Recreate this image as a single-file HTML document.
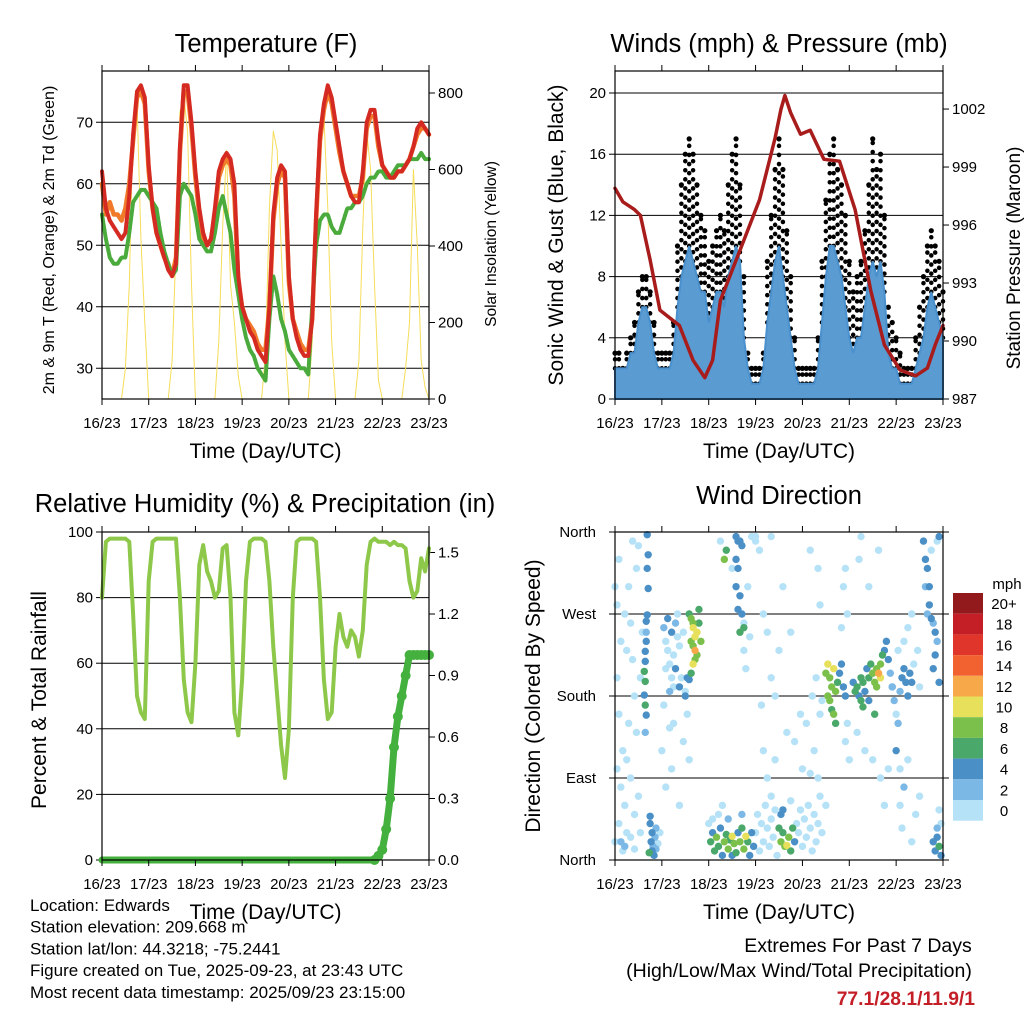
<!DOCTYPE html>
<html><head><meta charset="utf-8"><style>
html,body{margin:0;padding:0;background:#fff}
svg{display:block;font-family:"Liberation Sans",sans-serif}
</style></head><body>
<svg id="c" width="1024" height="1024" viewBox="0 0 1024 1024"></svg>
<script>
// ---------- data (2-hour steps, t = 0..168 h from 16/23) ----------
const dayLabels = ["16/23","17/23","18/23","19/23","20/23","21/23","22/23","23/23"];
const tempTicks = [30,40,50,60,70];
const solarTicks = [0,200,400,600,800];
const windTicks = [0,4,8,12,16,20];
const presTicks = [987,990,993,996,999,1002];
const rhTicks = [0,20,40,60,80,100];
const precTicks = [0.0,0.3,0.6,0.9,1.2,1.5];
const dirTicks = ["North","East","South","West","North"];
const speedBins = ["0","2","4","6","8","10","12","14","16","18","20+"];

const temp2m = [62,56,54,53,52,51,52,58,68,75,76,74,63,56,52,50,48,46,45,47,66,76,76,70,62,56,52,50,51,56,62,64,65,64,60,45,40,38,36,35,33,32,31,40,55,61,63,62,45,38,35,33,32,32,38,55,68,73,76,74,70,66,62,60,58,57,57,62,70,72,72,67,63,62,61,61,62,62,63,64,66,69,70,69,68];
const temp9m = [60,55,57,55,55,54,56,60,67,74,75,73,62,56,52,50,48,47,45,48,65,75,75,69,61,55,51,50,51,55,61,63,64,63,58,44,40,38,37,36,34,33,33,40,54,60,62,61,44,38,36,34,33,33,38,54,67,72,75,73,69,65,62,60,58,58,58,61,69,71,71,66,63,62,61,61,62,62,63,64,66,68,69,69,68];
const dewpoint = [55,51,48,47,47,48,48,52,57,58,59,59,58,57,56,52,49,47,45,46,58,60,59,58,55,51,50,49,49,52,56,58,55,52,46,42,38,35,33,32,30,29,28,38,45,42,38,36,33,32,31,30,30,29,40,50,54,55,55,53,52,52,54,56,56,57,57,58,60,61,61,62,62,61,61,62,63,63,63,64,64,64,65,64,64];
const solar = [0,0,0,0,0,0,80,300,720,780,420,200,0, 0,0,0,0,0,100,400,750,790,700,300,0, 0,0,0,0,0,150,450,650,300,200,60,0, 0,0,0,0,0,120,500,700,650,400,150,0, 0,0,0,0,0,150,500,720,740,500,150,0, 0,0,0,0,0,100,450,700,600,300,50,0, 0,0,0,0,0,80,200,600,400,100,30,0];
const windSpeed = [2,2,2,2,3,3,5,6,6,5,3,2,2, 2,2,3,6,8,9,10,9,8,7,7,5, 6,7,7,6,8,9,10,9,4,2,1,1, 1,2,5,7,9,10,8,6,4,2,1,1, 1,1,1,2,5,8,10,10,9,8,6,4, 3,4,4,6,8,9,8,9,7,3,2,2, 1,1,1,1,2,3,4,6,7,6,5,4];
const windGust = [3,3,2,3,4,5,7,8,8,7,5,3,3, 3,3,5,10,14,16,17,16,14,12,11,9, 10,11,12,11,14,16,17,14,8,3,2,2, 2,3,9,12,15,17,15,11,8,4,2,2, 2,2,2,4,9,13,16,17,15,14,12,9, 7,8,9,11,14,17,15,16,12,6,5,4, 3,2,2,2,4,6,8,10,11,10,9,7];
const pressTime = [0,4,10,13,18,23,33,40,46,50,54,64,74,82,85,87,90,95,100,107,115,123,131,138,146,154,160,164,168];
const pressure = [997.9,997.2,996.8,996.5,994.2,991.6,990.8,989.0,988.1,989.0,992.1,994.7,997.3,1000.5,1002.0,1002.7,1001.8,1000.7,1000.9,999.4,999.3,996.8,992.6,989.8,988.5,988.2,988.6,989.8,990.8];
const humidity = [80,97,98,98,98,98,98,97,75,50,45,43,85, 97,98,98,98,98,98,98,80,55,45,42,60, 90,96,88,85,80,82,95,96,80,45,38,55, 85,97,98,98,98,97,85,65,50,35,25,40, 80,97,98,98,98,98,97,80,55,43,45,65, 75,68,65,70,68,62,70,90,97,98,97,97, 97,96,97,96,96,95,85,80,82,92,88,95];
const precipTime = [0,20,40,60,80,100,120,140,142,144,146,148,150,152,154,156,158,160,162,164,166,168];
const precip = [0,0,0,0,0,0,0,0,0.02,0.05,0.15,0.3,0.55,0.7,0.8,0.9,1.0,1.0,1.0,1.0,1.0,1.0];

const dirTime = [0,1,2,3,1,2,4,1,3,5,2,0,4,6,7,8,9,10,11,6,8,12,10,13,12,11,9,14,13,5,6,7,3,5,8,10,
16.5,17,16.5,17,16.5,16,16,15.5,15.5,15,15.5,15,15.5,16,16,15.5,
18,19,18.5,19,20,19.5,20.5,21,18,17.5,21,22,23,
25,26,27,28,29,30,31,32,26,28,30,33,34,35,27,29,31,33,25,36,32,30,28,35,37,24,29,38,26,33,37,36,
38,39,40,41,40,41,42,39,43,42,40,39,38,44,43,41,40,
62,63,64,62,63,62,64,63,65,66,64,65,66,67,60,68,70,72,69,66,54,56,57,
49,50,51,52,53,54,55,56,57,58,59,60,61,62,63,64,65,66,67,68,69,70,71,50,53,48,58,65,55,60,
72,73,74,75,76,77,78,79,80,81,82,83,84,85,86,87,88,89,90,91,92,85,86,93,94,95,96,97,98,99,100,101,102,103,104,105,106,80,90,78,76,82,88,92,96,100,95,75,80,84,78,86,74,98,102,104,108,72,80,76,82,90,100,104,105,103,101,
108,109,110,111,112,113,110,111,112,113,114,109,115,116,117,118,106,105,119,118,120,116,119,117,118,
122,123,124,125,126,127,128,129,130,131,132,133,134,135,136,137,138,139,134,136,140,141,142,130,126,127,133,124,128,132,136,140,138,125,130,135,126,
142,143,144,145,146,147,148,149,150,151,152,153,145,148,150,152,155,156,144,146,148,150,147,152,154,146,156,
158,159,160,161,161,162,163,164,165,164,163,166,162,165,166,159,160,
163,164,165,166,167,165,166,167];
const dirDeg = [300,280,330,240,200,160,120,100,80,60,40,20,10,30,300,260,220,180,140,110,90,70,50,30,345,320,350,250,200,270,230,150,20,15,25,12,
357,335,320,298,269,262,240,229,218,207,196,181,170,159,250,140,
40,30,20,10,5,15,25,35,48,8,12,18,30,
255,240,230,215,200,190,260,245,210,185,225,235,200,250,265,250,210,190,170,185,270,150,145,130,160,120,100,110,80,60,200,180,
270,265,255,245,235,230,250,240,260,225,215,205,198,240,275,220,260,
355,350,350,330,320,300,290,275,270,255,250,345,260,210,320,300,355,350,245,230,350,330,340,
20,30,10,25,15,35,5,20,28,12,22,26,18,8,30,20,35,12,26,20,5,30,15,45,50,40,45,50,60,5,
30,50,10,40,20,60,35,15,45,25,55,5,35,20,30,15,16,25,10,35,20,50,55,40,30,55,15,45,25,60,35,10,50,20,40,70,30,70,65,90,120,110,140,130,100,95,160,170,200,230,250,300,340,150,120,90,60,355,355,270,180,250,340,320,280,200,180,
205,215,200,190,210,185,175,165,160,150,195,180,205,215,190,180,175,160,150,130,110,255,270,300,320,
195,185,190,180,200,195,185,210,200,215,205,195,210,205,215,225,230,240,190,200,220,205,190,175,175,168,160,140,120,110,90,100,60,330,300,340,355,
190,175,160,150,185,200,210,195,180,205,195,215,230,240,255,270,230,190,120,100,80,110,35,20,50,60,70,
350,330,320,300,280,265,260,250,240,225,210,195,340,350,355,300,270,
20,10,25,15,5,35,55,40];
const dirSpeed = [1,1,1,1,1,1,1,1,1,1,1,1,1,1,1,1,1,1,1,1,1,1,1,1,1,1,1,1,1,1,1,1,3,3,1,1,
4,4,4,4,4,4,4,4,4,6,6,4,6,4,3,3,
4,4,4,4,4,3,3,3,4,6,3,1,1,
3,1,1,1,1,1,3,1,1,3,1,1,1,1,4,4,4,4,1,1,1,1,1,1,1,1,1,1,1,1,4,4,
6,8,10,10,8,12,10,8,6,8,10,6,4,8,6,8,8,
4,4,4,4,4,4,4,4,4,6,6,4,1,1,1,1,1,1,1,1,1,8,6,
6,4,6,8,6,4,4,8,6,8,6,10,8,6,4,8,6,8,10,6,4,4,4,1,1,1,3,3,1,4,
1,1,1,1,1,1,1,1,1,1,1,1,6,8,6,8,10,8,6,6,4,4,4,1,1,1,1,1,1,1,1,1,1,1,1,1,1,1,1,1,1,1,1,1,1,1,1,1,1,1,1,1,1,1,1,1,1,1,1,1,1,1,1,1,1,1,1,
8,10,8,8,10,8,8,6,8,6,6,8,4,4,4,4,1,1,1,1,1,1,1,1,1,
4,6,6,4,6,6,4,4,6,6,8,8,8,12,8,6,4,4,8,10,4,3,3,4,6,6,6,1,1,1,1,1,1,1,1,1,1,
3,3,1,3,3,4,4,4,4,4,4,1,1,1,1,1,1,1,4,1,3,1,1,1,1,1,1,
4,4,4,4,4,4,3,4,3,4,4,4,1,1,4,3,3,
4,4,4,6,4,3,1,1];

// ---------- helpers ----------
const NS="http://www.w3.org/2000/svg";
const svg=document.getElementById('c');
function el(tag,attrs,parent){const e=document.createElementNS(NS,tag);for(const k in attrs)e.setAttribute(k,attrs[k]);(parent||svg).appendChild(e);return e;}
function txt(s,x,y,size,anchor,parent,extra){const e=el('text',Object.assign({x:x,y:y,'font-size':size,'text-anchor':anchor||'middle',fill:'#000'},extra||{}),parent);e.textContent=s;return e;}
function tArr(n){const a=[];for(let i=0;i<n;i++)a.push(i*2);return a;}
const T2=tArr(85);
const speedColors=["#b6e2f7","#7cb8e5","#4a8fc6","#4aa86b","#7cc04c","#e6e05a","#f7a94a","#f26230","#e0352b","#c41f27","#921a1c"];

function panel(name,x0,y0,x1,y1){
  const g=el('g',{});
  
  
  return {g,x0,y0,x1,y1,xs:t=>x0+t/168*(x1-x0)};
}
function frame(p){
  const r=el('rect',{x:p.x0,y:p.y0,width:p.x1-p.x0,height:p.y1-p.y0,fill:'none',stroke:'#000','stroke-width':1.2},p.g);
  
  
}
function xAxis(p){
  const g=el('g',{},p.g);
  
  
  dayLabels.forEach((l,i)=>{
    const x=p.xs(i*24);
    el('line',{x1:x,x2:x,y1:p.y1,y2:p.y1+6,stroke:'#000','stroke-width':1},g);
    el('line',{x1:x,x2:x,y1:p.y0,y2:p.y0-6,stroke:'#000','stroke-width':1},g);
    const t=txt(l,x,p.y1+29,15,'middle',g);
    
    
  });
  const tt=txt('Time (Day/UTC)',(p.x0+p.x1)/2,p.y1+59,21,'middle',g);
  
  
}
function yAxis(p,ticks,ys,side,grid,fmt,name){
  const g=el('g',{},p.g);
  
  
  ticks.forEach(v=>{
    const y=ys(v);
    if(grid&&y>p.y0+1&&y<p.y1-1) el('line',{x1:p.x0,x2:p.x1,y1:y,y2:y,stroke:'#000','stroke-width':1},g);
    if(side==='left'){
      el('line',{x1:p.x0-6,x2:p.x0,y1:y,y2:y,stroke:'#000'},g);
      txt(fmt?fmt(v):String(v),p.x0-9,y+5,15,'end',g);
    }else{
      el('line',{x1:p.x1,x2:p.x1+6,y1:y,y2:y,stroke:'#000'},g);
      txt(fmt?fmt(v):String(v),p.x1+9,y+5,15,'start',g);
    }
  });
}
function rotLabel(s,x,y,size,name,parent){
  const t=txt(s,x,y,size,'middle',parent,{transform:`rotate(-90 ${x} ${y})`});
  
  
}
function title(s,x,y,name,parent){
  const t=txt(s,x,y,25.5,'middle',parent);
  
  
}
function poly(p,ts,vs,ys,stroke,w,name,extra){
  const pts=ts.map((t,i)=>p.xs(t).toFixed(1)+','+ys(vs[i]).toFixed(1)).join(' ');
  const e=el('polyline',Object.assign({points:pts,fill:'none',stroke:stroke,'stroke-width':w,'stroke-linejoin':'round','stroke-linecap':'round'},extra||{}),p.g);
  
  
  return e;
}

// ---------- Panel 1: temperature ----------
const P1=panel('temperature-panel',102,71,429,399);
const yT=v=>399-(v-25)*6.15, yS=v=>399-v*0.3825;
yAxis(P1,tempTicks,yT,'left',true,null,'y-axis-temperature');
yAxis(P1,solarTicks,yS,'right',false,null,'y-axis-solar');
poly(P1,T2,solar,yS,'#f5dd5a',1,'series-solar-insolation');
poly(P1,T2,temp9m,yT,'#f07a2a',4.5,'series-9m-temperature');
poly(P1,T2,dewpoint,yT,'#4aaa3c',4,'series-dewpoint',{'stroke-dasharray':'3 1.5'});
poly(P1,T2,temp2m,yT,'#d42a22',4,'series-2m-temperature');
frame(P1);xAxis(P1);
title('Temperature (F)',266,52,'temperature-title',P1.g);
rotLabel('2m & 9m T (Red, Orange) & 2m Td (Green)',54,240,16,'y-axis-title-temperature',P1.g);
rotLabel('Solar Insolation (Yellow)',496,244,15.5,'y-axis-title-solar',P1.g);

// ---------- Panel 2: winds ----------
const P2=panel('winds-panel',615,71,943,399);
const yW=v=>399-v*15.3, yPr=v=>399-(v-987)*19.33;
yAxis(P2,windTicks,yW,'left',true,null,'y-axis-wind');
yAxis(P2,presTicks,yPr,'right',false,null,'y-axis-pressure');
el('line',{x1:615,x2:943,y1:yW(20),y2:yW(20),stroke:'#000'},P2.g);
T2.forEach((t,i)=>{
  const x=P2.xs(t);
  const gl=el('line',{x1:x,x2:x,y1:yW(windSpeed[i]),y2:yW(windGust[i]),stroke:'#000','stroke-width':4.5,'stroke-linecap':'round','stroke-dasharray':'0.1 9'},P2.g);
  
  
  const gd=el('circle',{cx:x,cy:yW(windGust[i]),r:2.6,fill:'#000'},P2.g);
  
  
});
{
  const pts=T2.map((t,i)=>P2.xs(t).toFixed(1)+','+yW(windSpeed[i]).toFixed(1));
  const area=el('polygon',{points:P2.xs(0)+','+yW(0)+' '+pts.join(' ')+' '+P2.xs(168)+','+yW(0),fill:'#5a9bd2',stroke:'#4a90cc','stroke-width':2},P2.g);
  
  
}
poly(P2,pressTime,pressure,yPr,'#a81c1c',3.5,'series-station-pressure');
frame(P2);xAxis(P2);
title('Winds (mph) & Pressure (mb)',779,52,'winds-title',P2.g);
rotLabel('Sonic Wind & Gust (Blue, Black)',563,235,21,'y-axis-title-wind',P2.g);
rotLabel('Station Pressure (Maroon)',1020,258,19,'y-axis-title-pressure',P2.g);

// ---------- Panel 3: humidity ----------
const P3=panel('humidity-panel',102,532,429,860);
const yR=v=>860-v*3.28, yP=v=>860-v*205;
yAxis(P3,rhTicks,yR,'left',true,null,'y-axis-humidity');
yAxis(P3,precTicks,yP,'right',false,v=>v.toFixed(1),'y-axis-precip');
poly(P3,T2,humidity,yR,'#8ec84a',4,'series-relative-humidity');
poly(P3,precipTime,precip,yP,'#44b03e',7,'series-precipitation');
precipTime.forEach((t,i)=>{
  if(i<7) return;
  const c=el('circle',{cx:P3.xs(t),cy:yP(precip[i]),r:5,fill:'#44b03e'},P3.g);
  
  
});
frame(P3);xAxis(P3);
title('Relative Humidity (%) & Precipitation (in)',265,512,'humidity-title',P3.g);
rotLabel('Percent & Total Rainfall',46,700,21,'y-axis-title-humidity',P3.g);

// ---------- Panel 4: wind direction ----------
const P4=panel('wind-direction-panel',615,532,943,860);
const yD=v=>860-v/360*328;
{
  const g=el('g',{},P4.g);
  
  
  dirTicks.forEach((l,i)=>{
    const y=yD(i*90);
    if(i>0&&i<4) el('line',{x1:615,x2:943,y1:y,y2:y,stroke:'#000'},g);
    el('line',{x1:609,x2:615,y1:y,y2:y,stroke:'#000'},g);
    el('line',{x1:943,x2:949,y1:y,y2:y,stroke:'#000'},g);
    txt(l,596,y+5,15,'end',g);
  });
}
{
  const idx=dirTime.map((_,i)=>i).sort((a,b)=>dirSpeed[a]-dirSpeed[b]);
  idx.forEach(i=>{
    const c=el('circle',{cx:P4.xs(dirTime[i]),cy:yD(dirDeg[i]),r:3.7,fill:speedColors[Math.min(10,Math.floor(dirSpeed[i]/2))]},P4.g);
    
    
  });
}
frame(P4);xAxis(P4);
title('Wind Direction',779,504,'wind-direction-title',P4.g);
rotLabel('Direction (Colored By Speed)',540,696,21,'y-axis-title-direction',P4.g);
{
  const g=el('g',{});
  
  
  txt('mph',1007,589,15,'middle',g);
  speedBins.forEach((l,i)=>{
    const k=10-i;
    const y=593+i*20.7;
    el('rect',{x:953,y:y,width:30,height:20.7,fill:speedColors[k]},g);
    txt(speedBins[k],1004,y+16,15,'middle',g);
  });
}

// ---------- footer text ----------
{
  const g=el('g',{});
  
  
  ["Location: Edwards","Station elevation: 209.668 m","Station lat/lon: 44.3218; -75.2441","Figure created on Tue, 2025-09-23, at 23:43 UTC","Most recent data timestamp: 2025/09/23 23:15:00"].forEach((s,i)=>txt(s,30,911+i*21.7,17,'start',g));
  const g2=el('g',{});
  
  
  txt('Extremes For Past 7 Days',858,952,19.5,'middle',g2);
  txt('(High/Low/Max Wind/Total Precipitation)',799,977,19.5,'middle',g2);
  txt('77.1/28.1/11.9/1',975,1005,19.3,'end',g2,{fill:'#c41f27','font-weight':'bold'});
}
</script>
</body></html>
